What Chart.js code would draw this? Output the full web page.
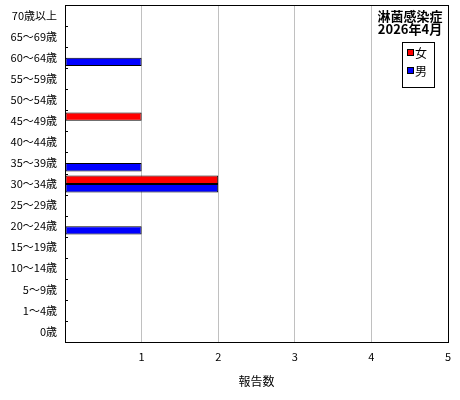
<!DOCTYPE html>
<html>
<head>
<meta charset="utf-8">
<script src="https://cdn.jsdelivr.net/npm/chart.js@4/dist/chart.umd.min.js"></script>
<style>
  body { margin: 0; background: #fff; }
  #wrap { width: 460px; height: 400px; position: relative; }
</style>
</head>
<body>
<div id="wrap"><canvas id="chart"></canvas></div>
<script>
const ageGroups = ['70歳以上', '65～69歳', '60～64歳', '55～59歳', '50～54歳', '45～49歳', '40～44歳',
  '35～39歳', '30～34歳', '25～29歳', '20～24歳', '15～19歳', '10～14歳', '5～9歳', '1～4歳', '0歳'];
const female = [0, 0, 0, 0, 0, 1, 0, 0, 2, 0, 0, 0, 0, 0, 0, 0];
const male = [0, 0, 1, 0, 0, 0, 0, 1, 2, 0, 1, 0, 0, 0, 0, 0];
const xTicks = [0, 1, 2, 3, 4, 5];
const titleLines = ['淋菌感染症', '2026年4月'];
const font = '"Noto Sans CJK JP", sans-serif';

// frame, little ticks on the left axis, title and legend
const extras = {
  id: 'extras',
  afterDraw(chart) {
    const ctx = chart.ctx;
    const area = chart.chartArea;
    const y = chart.scales.y;
    ctx.save();
    ctx.strokeStyle = '#000';
    ctx.lineWidth = 1;
    ctx.strokeRect(area.left + 0.5, area.top + 0.5, area.right - area.left, area.bottom - area.top);

    for (let i = 0; i < ageGroups.length - 1; i++) {
      const py = Math.round((y.getPixelForValue(i) + y.getPixelForValue(i + 1)) / 2) + 0.5;
      ctx.beginPath();
      ctx.moveTo(area.left, py);
      ctx.lineTo(area.left + 3, py);
      ctx.stroke();
    }

    ctx.fillStyle = '#000';
    ctx.font = 'bold 13px ' + font;
    ctx.textAlign = 'center';
    ctx.textBaseline = 'middle';
    ctx.fillText(titleLines[0], area.right - 38, area.top + 11);
    ctx.fillText(titleLines[1], area.right - 38, area.top + 24);

    const lx = area.right - 46, ly = area.top + 37;
    ctx.fillStyle = '#fff';
    ctx.fillRect(lx, ly, 32, 45);
    ctx.strokeRect(lx + 0.5, ly + 0.5, 32, 45);
    const items = [['女', '#ff0000'], ['男', '#0000ff']];
    ctx.font = '12px ' + font;
    ctx.textAlign = 'left';
    items.forEach((it, k) => {
      const iy = ly + 11 + k * 18;
      ctx.fillStyle = it[1];
      ctx.fillRect(lx + 6, iy - 3, 5, 5);
      ctx.strokeRect(lx + 5.5, iy - 3.5, 6, 6);
      ctx.fillStyle = '#000';
      ctx.fillText(it[0], lx + 13, iy);
    });
    ctx.restore();
  }
};

new Chart(document.getElementById('chart'), {
  type: 'bar',
  data: {
    labels: ageGroups,
    datasets: [
      { label: '女', data: female, backgroundColor: '#ff0000', borderColor: '#000', borderWidth: 1, borderSkipped: false },
      { label: '男', data: male, backgroundColor: '#0000ff', borderColor: '#000', borderWidth: 1, borderSkipped: false }
    ]
  },
  options: {
    indexAxis: 'y',
    responsive: true,
    maintainAspectRatio: false,
    animation: false,
    datasets: { bar: { categoryPercentage: 0.8, barPercentage: 1 } },
    layout: { padding: { top: 5, right: 12, bottom: 0, left: 0 } },
    plugins: { legend: { display: false }, tooltip: { enabled: false } },
    scales: {
      x: {
        min: xTicks[0],
        max: xTicks[xTicks.length - 1],
        afterBuildTicks: s => { s.ticks = xTicks.map(v => ({ value: v })); },
        afterFit: s => { s.height = 58; s.paddingLeft = 0; s.paddingRight = 0; },
        grid: { color: '#c0c0c0', drawTicks: false },
        border: { color: '#000' },
        ticks: {
          color: '#000', padding: 8, font: { family: font, size: 11 },
          callback: v => v === 0 ? '' : v
        },
        title: { display: true, text: '報告数', color: '#000', font: { family: font, size: 12 }, padding: { top: 0, bottom: 11 } }
      },
      y: {
        afterFit: s => { s.width = 65; s.paddingTop = 0; s.paddingBottom = 0; },
        grid: { display: false, drawTicks: false },
        border: { color: '#000' },
        ticks: { color: '#000', padding: 8, font: { family: font, size: 11 } }
      }
    }
  },
  plugins: [extras]
});
</script>
</body>
</html>
